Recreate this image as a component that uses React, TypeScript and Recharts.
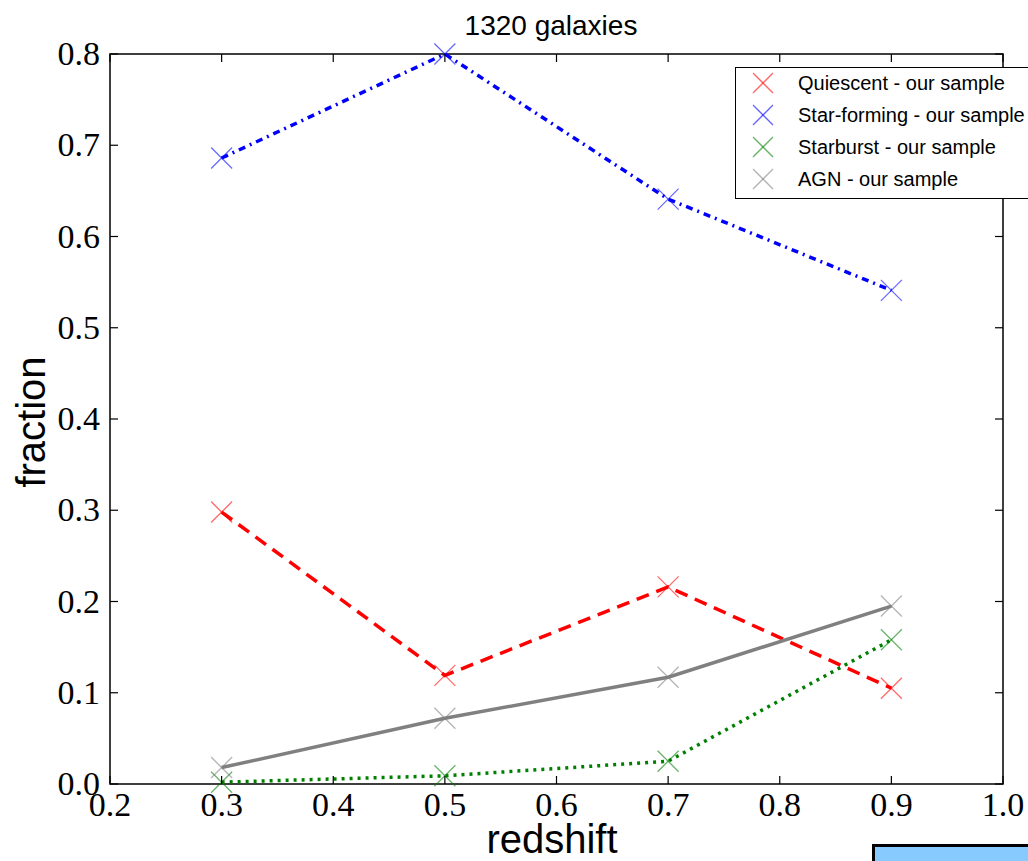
import React from 'react';
import { LineChart, Line, XAxis, YAxis, ReferenceArea } from 'recharts';

const redshift = [0.3, 0.5, 0.7, 0.9];
const quiescent = [0.298, 0.119, 0.216, 0.105];
const starForming = [0.686, 0.8, 0.641, 0.541];
const starburst = [0.002, 0.009, 0.025, 0.158];
const agn = [0.018, 0.072, 0.117, 0.195];

const xTicks = [0.2, 0.3, 0.4, 0.5, 0.6, 0.7, 0.8, 0.9, 1.0];
const yTicks = [0, 0.1, 0.2, 0.3, 0.4, 0.5, 0.6, 0.7, 0.8];

const data = redshift.map((z, i) => ({
  z,
  quiescent: quiescent[i],
  starForming: starForming[i],
  starburst: starburst[i],
  agn: agn[i],
}));

const series = [
  { key: 'quiescent', name: 'Quiescent - our sample', color: '#ff0000', marker: 'rgba(255,0,0,0.6)', dash: '13 8' },
  { key: 'starForming', name: 'Star-forming - our sample', color: '#0000ff', marker: 'rgba(0,0,255,0.6)', dash: '7 5 2 5' },
  { key: 'starburst', name: 'Starburst - our sample', color: '#008000', marker: 'rgba(0,128,0,0.6)', dash: '3 5' },
  { key: 'agn', name: 'AGN - our sample', color: '#808080', marker: 'rgba(128,128,128,0.6)', dash: undefined },
];

// axes box in page pixels
const W = 1028;
const H = 861;
const PLOT_TOP = 54;
const PLOT_RIGHT = 1003;
const PLOT_LEFT = 110;
const PLOT_BOTTOM = 784;

const tickFont = { fontFamily: '"Liberation Serif", serif', fontSize: 34, fill: '#000' };
const sansFont = '"Liberation Sans", Arial, sans-serif';
const TICK_LEN = 8;

// inward ticks on bottom and top spines, label below
const BottomTick = ({ x, y, payload }: any) => (
  <g>
    <line x1={x} y1={y} x2={x} y2={y - TICK_LEN} stroke="#000" strokeWidth={1.2} />
    <line x1={x} y1={PLOT_TOP} x2={x} y2={PLOT_TOP + TICK_LEN} stroke="#000" strokeWidth={1.2} />
    <text x={x} y={y + 32} textAnchor="middle" {...tickFont}>
      {payload.value.toFixed(1)}
    </text>
  </g>
);

// inward ticks on left and right spines
const LeftTick = ({ x, y, payload }: any) => (
  <g>
    <line x1={x} y1={y} x2={x + TICK_LEN} y2={y} stroke="#000" strokeWidth={1.2} />
    <line x1={PLOT_RIGHT} y1={y} x2={PLOT_RIGHT - TICK_LEN} y2={y} stroke="#000" strokeWidth={1.2} />
    <text x={x - 10} y={y + 11} textAnchor="end" {...tickFont}>
      {payload.value.toFixed(1)}
    </text>
  </g>
);

// matplotlib style 'x' marker
const xMarker = (color: string) => (props: any) => {
  const { cx, cy, index } = props;
  const r = 10.5;
  return (
    <g key={`m-${index}`}>
      <line x1={cx - r} y1={cy - r} x2={cx + r} y2={cy + r} stroke={color} strokeWidth={1.3} />
      <line x1={cx - r} y1={cy + r} x2={cx + r} y2={cy - r} stroke={color} strokeWidth={1.3} />
    </g>
  );
};

export default function App() {
  return (
    <div
      style={{
        position: 'absolute',
        left: 0,
        top: 0,
        width: W,
        height: H,
        overflow: 'hidden',
        background: '#fff',
      }}
    >
      <LineChart
        width={W}
        height={H}
        data={data}
        margin={{ top: PLOT_TOP, right: W - PLOT_RIGHT, bottom: 0, left: 0 }}
      >
        <XAxis
          dataKey="z"
          type="number"
          domain={[0.2, 1.0]}
          ticks={xTicks}
          interval={0}
          height={H - PLOT_BOTTOM}
          tickSize={0}
          tickMargin={0}
          tickLine={false}
          axisLine={false}
          tick={<BottomTick />}
          label={{
            content: () => (
              <text x={552} y={853} textAnchor="middle" fontFamily={sansFont} fontSize={40} fill="#000">
                redshift
              </text>
            ),
          }}
        />
        <YAxis
          type="number"
          domain={[0, 0.8]}
          ticks={yTicks}
          interval={0}
          width={PLOT_LEFT}
          tickSize={0}
          tickMargin={0}
          tickLine={false}
          axisLine={false}
          tick={<LeftTick />}
          label={{
            content: () => (
              <text
                x={45}
                y={422}
                transform="rotate(-90 45 422)"
                textAnchor="middle"
                fontFamily={sansFont}
                fontSize={40}
                fill="#000"
              >
                fraction
              </text>
            ),
          }}
        />
        {/* axes frame */}
        <ReferenceArea x1={0.2} x2={1.0} y1={0} y2={0.8} fill="none" stroke="#000" strokeWidth={1.5} />
        {series.map((s) => (
          <Line
            key={s.key}
            dataKey={s.key}
            name={s.name}
            type="linear"
            stroke={s.color}
            strokeWidth={3.5}
            strokeDasharray={s.dash}
            dot={xMarker(s.marker)}
            activeDot={false}
            isAnimationActive={false}
          />
        ))}
      </LineChart>

      <div
        style={{
          position: 'absolute',
          left: 0,
          width: 1102,
          top: 8,
          textAlign: 'center',
          fontFamily: sansFont,
          fontSize: 28,
          lineHeight: '36px',
          color: '#000',
        }}
      >
        1320 galaxies
      </div>

      <div
        style={{
          position: 'absolute',
          left: 735,
          top: 67,
          width: 320,
          height: 130,
          border: '1.5px solid #000',
          background: '#fff',
        }}
      >
        {series.map((s, i) => (
          <div key={s.key} style={{ position: 'absolute', left: 0, top: 15 + 32 * i - 14, height: 28, width: 320 }}>
            <svg width={24} height={24} style={{ position: 'absolute', left: 15, top: 2 }}>
              <line x1={2} y1={2} x2={22} y2={22} stroke={s.marker} strokeWidth={1.3} />
              <line x1={2} y1={22} x2={22} y2={2} stroke={s.marker} strokeWidth={1.3} />
            </svg>
            <span
              style={{
                position: 'absolute',
                left: 62,
                top: 0,
                lineHeight: '28px',
                fontFamily: sansFont,
                fontSize: 20,
                color: '#000',
                whiteSpace: 'nowrap',
              }}
            >
              {s.name}
            </span>
          </div>
        ))}
      </div>

      <div
        style={{
          position: 'absolute',
          left: 872,
          top: 844,
          width: 200,
          height: 40,
          background: '#87cafd',
          border: '3px solid #000',
        }}
      />
    </div>
  );
}
